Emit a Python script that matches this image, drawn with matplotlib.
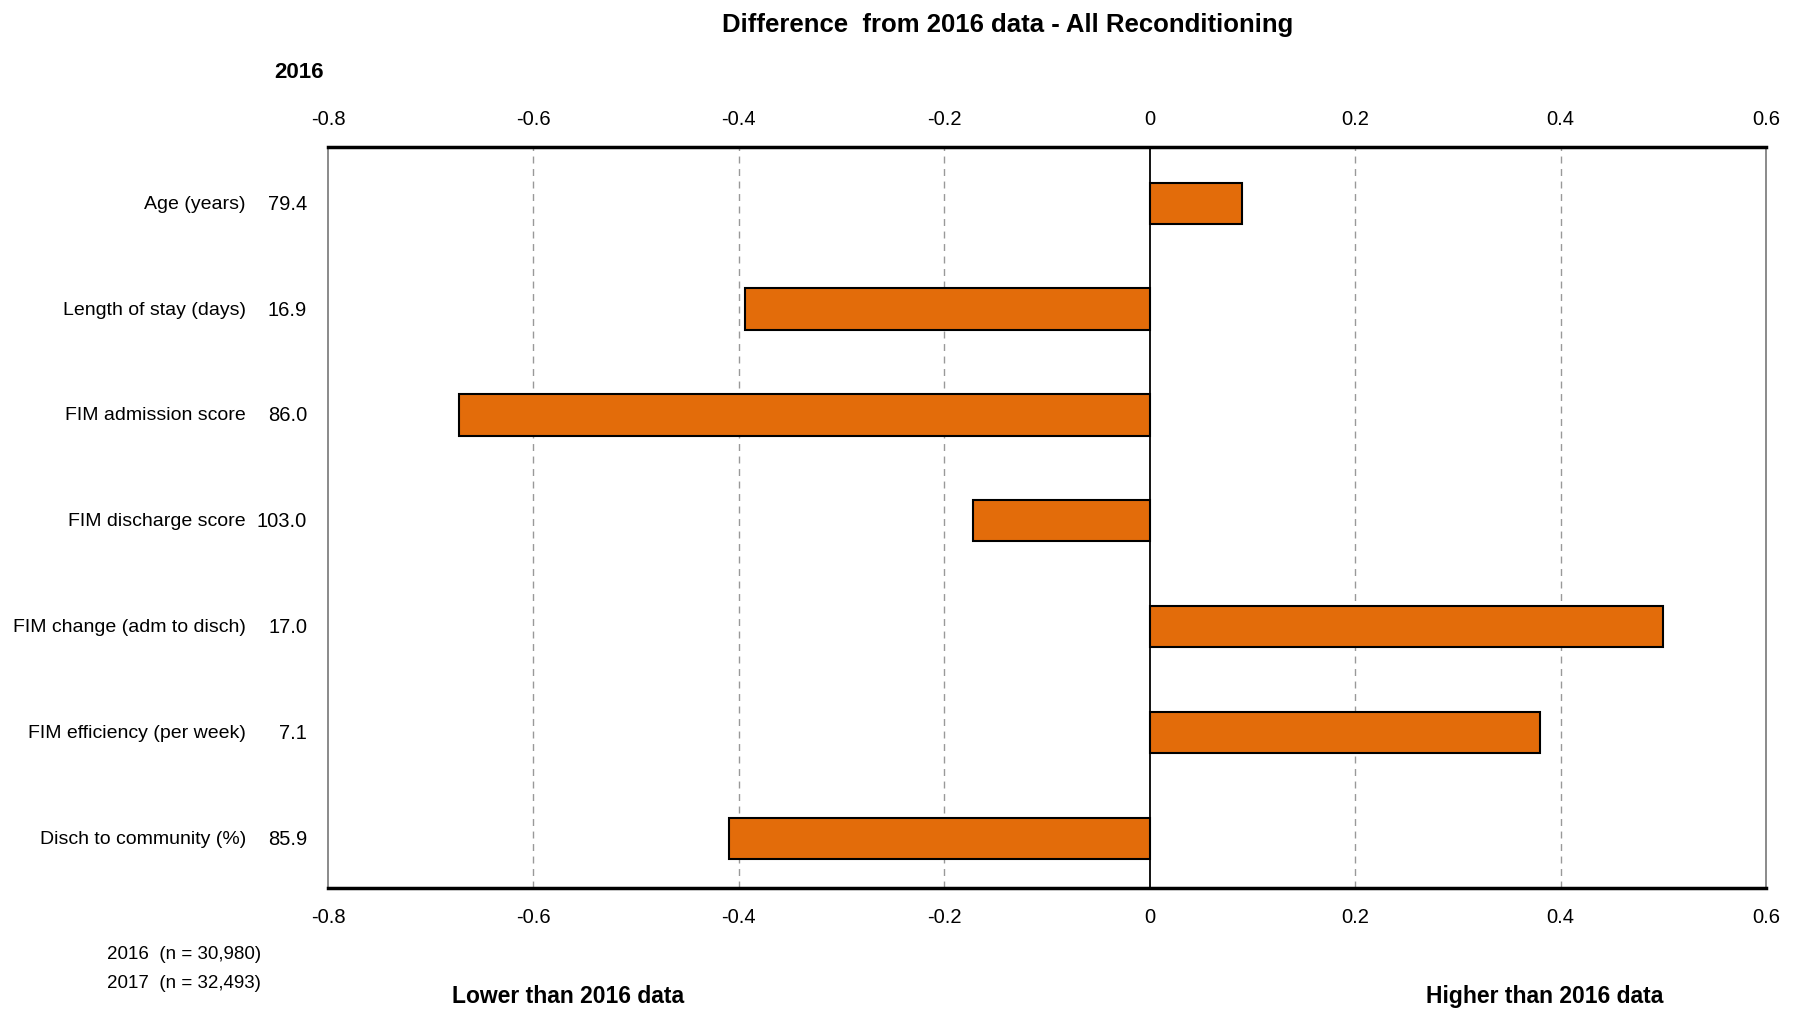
import matplotlib
matplotlib.use("Agg")
import matplotlib.pyplot as plt
import matplotlib.transforms as mtransforms

plt.rcParams['font.family'] = ['Liberation Sans Narrow', 'Liberation Sans', 'DejaVu Sans']

# data
categories = ["Age (years)", "Length of stay (days)", "FIM admission score",
              "FIM discharge score", "FIM change (adm to disch)",
              "FIM efficiency (per week)", "Disch to community (%)"]
values_2016 = ["79.4", "16.9", "86.0", "103.0", "17.0", "7.1", "85.9"]
diffs = [0.09, -0.394, -0.672, -0.172, 0.50, 0.38, -0.41]
xticks = [-0.8, -0.6, -0.4, -0.2, 0, 0.2, 0.4, 0.6]
xticklabels = ["-0.8", "-0.6", "-0.4", "-0.2", "0", "0.2", "0.4", "0.6"]

fig = plt.figure(figsize=(18.02, 10.12), dpi=100)
ax = fig.add_axes([0.182, 0.1215, 0.798, 0.7322])

ypos = list(range(len(categories)))
ax.barh(ypos, diffs, height=0.39, color="#E36C0A", edgecolor="black", linewidth=1.5, zorder=3)

ax.set_xlim(-0.8, 0.6)
ax.set_ylim(len(categories) - 0.53, -0.53)
ax.set_xticks(xticks)
ax.set_xticklabels(xticklabels)
ax.tick_params(axis="x", which="both", length=0, labelsize=14.5, pad=14,
               top=True, labeltop=True, bottom=True, labelbottom=True)
ax.set_yticks([])

for v in xticks[1:-1]:
    if v == 0:
        ax.axvline(0, color="black", lw=1.3, zorder=4)
    else:
        ax.axvline(v, color="#999999", lw=1.0, ls=(0, (5, 4)), zorder=1)

ax.spines["top"].set_linewidth(2.5)
ax.spines["bottom"].set_linewidth(2.5)
ax.spines["left"].set_color("#777777")
ax.spines["right"].set_color("#777777")
ax.spines["left"].set_linewidth(1.2)
ax.spines["right"].set_linewidth(1.2)

trans = mtransforms.blended_transform_factory(fig.transFigure, ax.transData)
for y, name, val in zip(ypos, categories, values_2016):
    ax.text(246 / 1802, y, name, transform=trans, ha="right", va="center", fontsize=14)
    ax.text(307 / 1802, y, val, transform=trans, ha="right", va="center", fontsize=14.5)

fig.text(1008 / 1802, 1 - 25 / 1012, "Difference  from 2016 data - All Reconditioning",
         ha="center", va="center", fontsize=18.5, fontweight="bold")
fig.text(299 / 1802, 1 - 72 / 1012, "2016", ha="center", va="center", fontsize=16, fontweight="bold")
fig.text(107 / 1802, 1 - 955 / 1012, "2016  (n = 30,980)", ha="left", va="center", fontsize=13.5)
fig.text(107 / 1802, 1 - 983 / 1012, "2017  (n = 32,493)", ha="left", va="center", fontsize=13.5)
fig.text(568 / 1802, 1 - 997 / 1012, "Lower than 2016 data", ha="center", va="center",
         fontsize=16.5, fontweight="bold")
fig.text(1545 / 1802, 1 - 997 / 1012, "Higher than 2016 data", ha="center", va="center",
         fontsize=16.5, fontweight="bold")

fig.savefig("out.png", dpi=100, facecolor="white")
